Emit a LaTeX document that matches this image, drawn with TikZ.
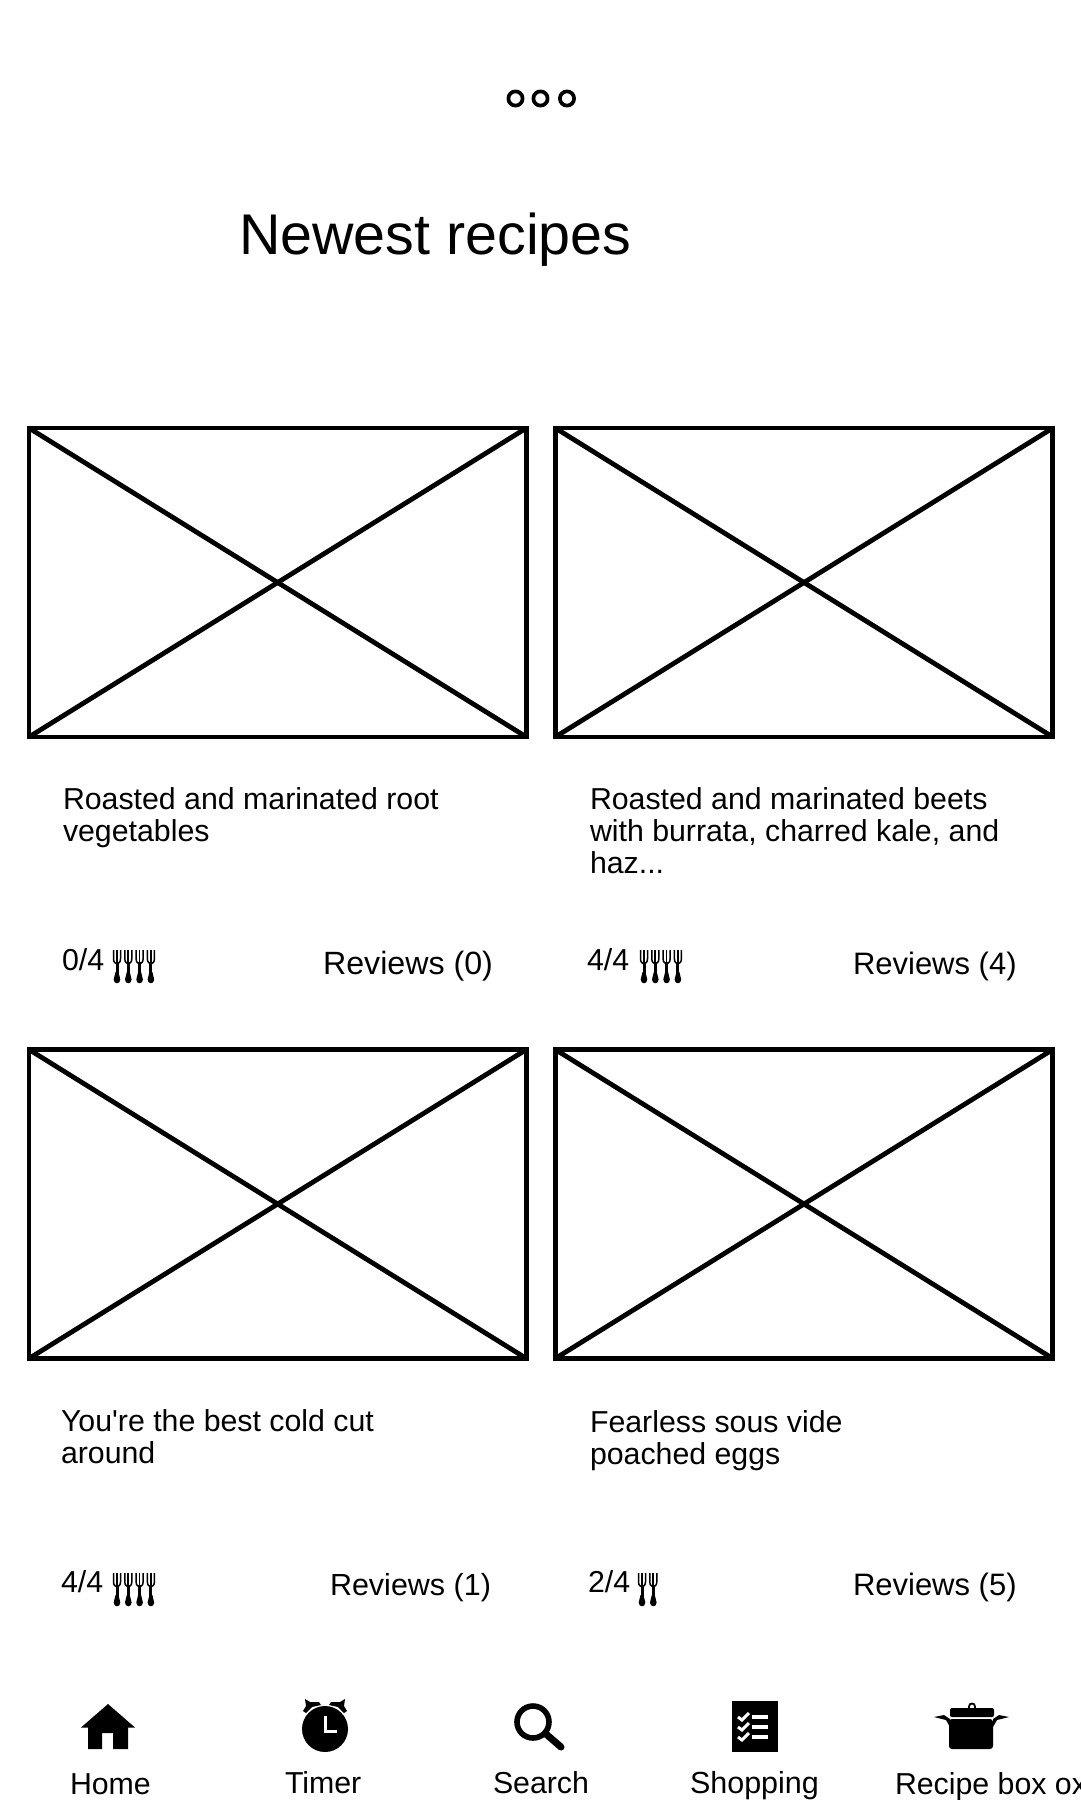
\documentclass[tikz,border=0pt]{standalone}
\usepackage{fontspec}
\setmainfont{Liberation Sans}
\tikzset{
  x=1pt,y=-1pt,
  txt/.style={inner sep=0pt,outer sep=0pt,anchor=base west,align=left,font=\fontsize{30.3}{32}\selectfont,text=black},
  title/.style={txt,font=\fontsize{57.4}{57}\selectfont},
  imgbox/.style={draw=black,line width=4.6pt,minimum width=497.5pt,minimum height=309pt,inner sep=0pt,outer sep=0pt},
  diag/.style={draw=black,line width=4.8pt},
  dot/.style={circle,draw=black,line width=3.7pt,minimum size=14.2pt,inner sep=0pt,outer sep=0pt},
  forkicon/.pic={
    \draw[black,line width=1.5pt] (-3.5,0) -- (-3.5,9) .. controls (-3.5,13) and (-1,13) .. (0,14);
    \draw[black,line width=1.5pt] (3.5,0) -- (3.5,9) .. controls (3.5,13) and (1,13) .. (0,14);
    \draw[black,line width=1.7pt] (0,0) -- (0,14);
    \draw[black,line width=3pt] (0,12) -- (0,24);
    \fill[black] (-1.5,22) .. controls (-2,25) and (-3.3,26) .. (-3.3,29.5) .. controls (-3.3,34.5) and (3.3,34.5) .. (3.3,29.5) .. controls (3.3,26) and (2,25) .. (1.5,22) -- cycle;
  },
  fork4/.pic={
    \pic at (0,0) {forkicon}; \pic at (11.3,0) {forkicon}; \pic at (22.6,0) {forkicon}; \pic at (33.9,0) {forkicon};
  },
  fork2/.pic={
    \pic at (0,0) {forkicon}; \pic at (11.3,0) {forkicon};
  },
}
\begin{document}
\begin{tikzpicture}
\useasboundingbox (0,0) rectangle (1080,1800);
\clip (0,0) rectangle (1080,1800);
\fill[white] (0,0) rectangle (1080,1800);
% pagination dots
\node[dot] (dotA) at (515.5,98.5) {};
\node[dot] (dotB) at (540.5,98.5) {};
\node[dot] (dotC) at (567,98.5) {};
\node[title] (heading) at (239,254) {Newest recipes};
% image placeholders
\node[imgbox] (imgA) at (277.7,582.5) {};
\node[imgbox] (imgB) at (804,582.5) {};
\node[imgbox] (imgC) at (277.7,1204) {};
\node[imgbox] (imgD) at (804,1204) {};
\foreach \n in {imgA,imgB,imgC,imgD}{
  \draw[diag] (\n.north west) -- (\n.south east);
  \draw[diag] (\n.north east) -- (\n.south west);
}
% card texts
\node[txt] (titleA) at (63,841) {Roasted and marinated root\\vegetables};
\node[txt] (titleB) at (590,873) {Roasted and marinated beets\\with burrata, charred kale, and\\haz...};
\node[txt] (titleC) at (61,1463) {You\textquotesingle re the best cold cut\\around};
\node[txt] (titleD) at (590,1464) {Fearless sous vide\\poached eggs};
\node[txt] (rateA) at (62,970) {0/4};
\node[txt] (rateB) at (587,970) {4/4};
\node[txt] (rateC) at (61,1592) {4/4};
\node[txt] (rateD) at (588,1592) {2/4};
\node[txt,font=\fontsize{32.2}{32}\selectfont] (revA) at (323,974) {Reviews (0)};
\node[txt,font=\fontsize{31}{32}\selectfont] (revB) at (853,974) {Reviews (4)};
\node[txt,font=\fontsize{30.5}{32}\selectfont] (revC) at (330,1595) {Reviews (1)};
\node[txt,font=\fontsize{31}{32}\selectfont] (revD) at (853,1595) {Reviews (5)};
\pic at (117,950) {fork4};
\pic at (644,950) {fork4};
\pic at (117,1573) {fork4};
\pic at (642,1573) {fork2};
% tab bar labels
\node[txt] (tabA) at (70,1794) {Home};
\node[txt] (tabB) at (285,1793) {Timer};
\node[txt] (tabC) at (493,1793) {Search};
\node[txt,font=\fontsize{30.5}{32}\selectfont] (tabD) at (690,1793) {Shopping};
\node[txt] (tabE) at (895,1794) {Recipe box ox};
% home icon
\fill[black] (108,1704) -- (135,1727.5) -- (128,1727.5) -- (128,1749) -- (113,1749) -- (113,1733) -- (102,1733) -- (102,1749) -- (88,1749) -- (88,1727.5) -- (81,1727.5) -- cycle;
% timer icon
\fill[black] (325,1729) circle (23);
\draw[white,line width=3pt] (325,1716) -- (325,1731) -- (337,1731);
\fill[black] (303,1711) -- (306,1706) -- (305,1699) -- (310,1702) -- (319,1702) -- (321,1705) -- (312,1707) -- (306,1713) -- cycle;
\fill[black] (347,1711) -- (344,1706) -- (345,1699) -- (340,1702) -- (331,1702) -- (329,1705) -- (338,1707) -- (344,1713) -- cycle;
% search icon
\draw[black,line width=5.6pt] (533,1722) circle (16);
\draw[black,line width=7pt,line cap=round] (546,1734) -- (561,1747);
% shopping icon
\fill[black] (732,1701) rectangle (778,1752);
\foreach \yy in {1717,1727,1737}{
  \draw[white,line width=4pt] (752,\yy) -- (768,\yy);
  \draw[white,line width=3pt] (738,\yy) -- (742,\yy+3) -- (749,\yy-4);
}
% pot icon
\fill[black,rounded corners=3pt] (949,1719) -- (993,1719) -- (993,1749) -- (949,1749) -- cycle;
\fill[black,rounded corners=2pt] (950,1717) -- (950,1708) -- (994,1708) -- (994,1717) -- cycle;
\draw[black,line width=1.8pt] (969,1709) -- (969,1706.5) .. controls (969,1702.5) and (975,1702.5) .. (975,1706.5) -- (975,1709);
\fill[black] (934,1717) -- (944,1715) -- (950,1719) -- (950,1727) -- (946,1720) -- cycle;
\fill[black] (1009,1717) -- (999,1715) -- (993,1719) -- (993,1727) -- (997,1720) -- cycle;
\end{tikzpicture}
\end{document}
